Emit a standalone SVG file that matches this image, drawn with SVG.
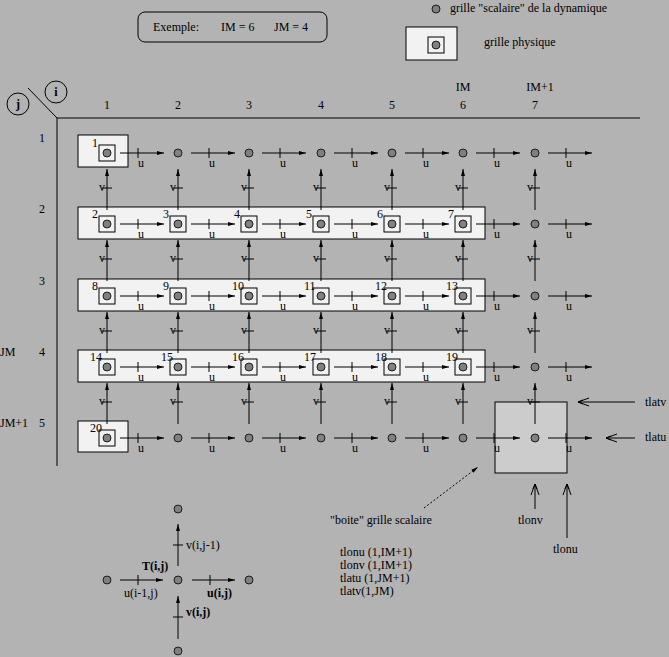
<svg xmlns="http://www.w3.org/2000/svg" xmlns:xlink="http://www.w3.org/1999/xlink" width="669" height="657" viewBox="0 0 669 657">
<style>
text{font-family:"Liberation Serif",serif;font-size:12px;fill:#000}
.b{font-weight:bold}
.ln{stroke:#000;stroke-width:1;fill:none}
.dot{fill:#808080;stroke:#000;stroke-width:0.8}
.pb{fill:#f2f2f2;stroke:#000;stroke-width:1}
</style>
<defs>
<marker id="ah" markerWidth="8" markerHeight="6" refX="7" refY="3" orient="auto" markerUnits="userSpaceOnUse"><path d="M0,1 L7,3 L0,5 Z" fill="#000"/></marker>
<marker id="oa" markerWidth="14" markerHeight="10" refX="12" refY="5" orient="auto" markerUnits="userSpaceOnUse"><path d="M1,1 L12,5 L1,9 M7,3 L12,5 L7,7" fill="none" stroke="#000"/></marker>
<g id="ua"><line class="ln" x1="13" y1="0" x2="57" y2="0" marker-end="url(#ah)"/><line class="ln" x1="31" y1="-5" x2="31" y2="5"/><text x="31" y="14">u</text></g>
<g id="va"><line class="ln" x1="0" y1="57" x2="0" y2="16" marker-end="url(#ah)"/><line class="ln" x1="-5" y1="35" x2="5" y2="35"/><text x="-2" y="38" text-anchor="end">v</text></g>
<circle id="d" class="dot" r="4"/>
<g id="p"><rect x="-8" y="-8" width="16" height="16" fill="#f2f2f2" stroke="#000"/><circle class="dot" r="4"/></g>
</defs>
<rect width="669" height="657" fill="#b3b3b3"/>
<g id="legend">
<rect x="138" y="12" width="189" height="30" rx="7" fill="#b3b3b3" stroke="#000"/>
<text x="153" y="31">Exemple:</text><text x="221" y="31">IM = 6</text><text x="274" y="31">JM = 4</text>
<use href="#d" x="436" y="9"/>
<text x="450" y="12">grille "scalaire" de la dynamique</text>
<rect x="406" y="27" width="51" height="33" fill="#f2f2f2" stroke="#000"/>
<use href="#p" x="436" y="45"/>
<text x="484" y="46">grille physique</text>
</g>
<g id="axes">
<line class="ln" x1="57" y1="118" x2="57" y2="466"/>
<line class="ln" x1="57" y1="118" x2="640" y2="118"/>
<line class="ln" x1="28" y1="88" x2="57" y2="118"/>
<circle cx="56" cy="92" r="11" fill="#b3b3b3" stroke="#000"/><text class="b" x="56" y="96" text-anchor="middle">i</text>
<circle cx="18" cy="104" r="11" fill="#b3b3b3" stroke="#000"/><text class="b" x="18" y="108" text-anchor="middle">j</text>
<g text-anchor="middle">
<text x="107" y="109">1</text><text x="178" y="109">2</text><text x="249" y="109">3</text><text x="321" y="109">4</text><text x="392" y="109">5</text><text x="463" y="109">6</text><text x="535" y="109">7</text>
<text x="463" y="91">IM</text><text x="540" y="91">IM+1</text>
</g>
<text x="39" y="142">1</text><text x="39" y="213">2</text><text x="39" y="285">3</text><text x="39" y="356">4</text><text x="39" y="427">5</text>
<text x="0" y="356">JM</text><text x="0" y="427">JM+1</text>
</g>
<g id="rows">
<rect class="pb" x="78" y="135" width="50" height="32"/>
<rect class="pb" x="78" y="207" width="407" height="32"/>
<rect class="pb" x="78" y="279" width="407" height="32"/>
<rect class="pb" x="78" y="350" width="407" height="32"/>
<rect class="pb" x="78" y="421" width="50" height="31"/>
<rect x="495" y="402" width="72" height="71" fill="#cccccc" stroke="#000"/>
</g>
<g id="connectors">
<use href="#ua" x="107" y="153"/><use href="#ua" x="178" y="153"/><use href="#ua" x="249" y="153"/><use href="#ua" x="321" y="153"/><use href="#ua" x="392" y="153"/><use href="#ua" x="463" y="153"/><use href="#ua" x="535" y="153"/>
<use href="#ua" x="107" y="224"/><use href="#ua" x="178" y="224"/><use href="#ua" x="249" y="224"/><use href="#ua" x="321" y="224"/><use href="#ua" x="392" y="224"/><use href="#ua" x="463" y="224"/><use href="#ua" x="535" y="224"/>
<use href="#ua" x="107" y="296"/><use href="#ua" x="178" y="296"/><use href="#ua" x="249" y="296"/><use href="#ua" x="321" y="296"/><use href="#ua" x="392" y="296"/><use href="#ua" x="463" y="296"/><use href="#ua" x="535" y="296"/>
<use href="#ua" x="107" y="367"/><use href="#ua" x="178" y="367"/><use href="#ua" x="249" y="367"/><use href="#ua" x="321" y="367"/><use href="#ua" x="392" y="367"/><use href="#ua" x="463" y="367"/><use href="#ua" x="535" y="367"/>
<use href="#ua" x="107" y="438"/><use href="#ua" x="178" y="438"/><use href="#ua" x="249" y="438"/><use href="#ua" x="321" y="438"/><use href="#ua" x="392" y="438"/><use href="#ua" x="463" y="438"/><use href="#ua" x="535" y="438"/>
<use href="#va" x="107" y="153"/><use href="#va" x="178" y="153"/><use href="#va" x="249" y="153"/><use href="#va" x="321" y="153"/><use href="#va" x="392" y="153"/><use href="#va" x="463" y="153"/><use href="#va" x="535" y="153"/>
<use href="#va" x="107" y="224"/><use href="#va" x="178" y="224"/><use href="#va" x="249" y="224"/><use href="#va" x="321" y="224"/><use href="#va" x="392" y="224"/><use href="#va" x="463" y="224"/><use href="#va" x="535" y="224"/>
<use href="#va" x="107" y="296"/><use href="#va" x="178" y="296"/><use href="#va" x="249" y="296"/><use href="#va" x="321" y="296"/><use href="#va" x="392" y="296"/><use href="#va" x="463" y="296"/><use href="#va" x="535" y="296"/>
<use href="#va" x="107" y="367"/><use href="#va" x="178" y="367"/><use href="#va" x="249" y="367"/><use href="#va" x="321" y="367"/><use href="#va" x="392" y="367"/><use href="#va" x="463" y="367"/><use href="#va" x="535" y="367"/>
<line class="ln" x1="635" y1="402" x2="578" y2="402" marker-end="url(#oa)"/>
<line class="ln" x1="635" y1="438" x2="606" y2="438" marker-end="url(#oa)"/>
<line class="ln" x1="535" y1="509" x2="535" y2="484" marker-end="url(#oa)"/>
<line class="ln" x1="567" y1="538" x2="567" y2="484" marker-end="url(#oa)"/>
<line class="ln" x1="424" y1="508" x2="478" y2="467" stroke-dasharray="2,2" marker-end="url(#ah)"/>
<line class="ln" x1="120" y1="580" x2="163" y2="580" marker-end="url(#ah)"/><line class="ln" x1="138" y1="575" x2="138" y2="585"/>
<line class="ln" x1="192" y1="580" x2="235" y2="580" marker-end="url(#ah)"/><line class="ln" x1="210" y1="575" x2="210" y2="585"/>
<line class="ln" x1="178" y1="566" x2="178" y2="524" marker-end="url(#ah)"/><line class="ln" x1="173" y1="545" x2="183" y2="545"/>
<line class="ln" x1="178" y1="639" x2="178" y2="596" marker-end="url(#ah)"/><line class="ln" x1="173" y1="617" x2="183" y2="617"/>
</g>
<g id="row1"><use href="#p" x="107" y="153"/><text x="92" y="147">1</text><use href="#d" x="178" y="153"/><use href="#d" x="249" y="153"/><use href="#d" x="321" y="153"/><use href="#d" x="392" y="153"/><use href="#d" x="463" y="153"/><use href="#d" x="535" y="153"/></g>
<g id="row2"><use href="#p" x="107" y="224"/><use href="#p" x="178" y="224"/><use href="#p" x="249" y="224"/><use href="#p" x="321" y="224"/><use href="#p" x="392" y="224"/><use href="#p" x="463" y="224"/><use href="#d" x="535" y="224"/>
<text x="92" y="218">2</text><text x="163" y="218">3</text><text x="234" y="218">4</text><text x="306" y="218">5</text><text x="377" y="218">6</text><text x="448" y="218">7</text></g>
<g id="row3"><use href="#p" x="107" y="296"/><use href="#p" x="178" y="296"/><use href="#p" x="249" y="296"/><use href="#p" x="321" y="296"/><use href="#p" x="392" y="296"/><use href="#p" x="463" y="296"/><use href="#d" x="535" y="296"/>
<text x="92" y="290">8</text><text x="163" y="290">9</text><text x="232" y="290">10</text><text x="304" y="290">11</text><text x="375" y="290">12</text><text x="446" y="290">13</text></g>
<g id="row4"><use href="#p" x="107" y="367"/><use href="#p" x="178" y="367"/><use href="#p" x="249" y="367"/><use href="#p" x="321" y="367"/><use href="#p" x="392" y="367"/><use href="#p" x="463" y="367"/><use href="#d" x="535" y="367"/>
<text x="90" y="361">14</text><text x="161" y="361">15</text><text x="232" y="361">16</text><text x="304" y="361">17</text><text x="375" y="361">18</text><text x="446" y="361">19</text></g>
<g id="row5"><use href="#p" x="107" y="438"/><text x="90" y="432">20</text><use href="#d" x="178" y="438"/><use href="#d" x="249" y="438"/><use href="#d" x="321" y="438"/><use href="#d" x="392" y="438"/><use href="#d" x="463" y="438"/><use href="#d" x="535" y="438"/></g>
<g id="stencil"><use href="#d" x="107" y="580"/><use href="#d" x="178" y="580"/><use href="#d" x="249" y="580"/><use href="#d" x="178" y="509"/><use href="#d" x="178" y="651"/>
<text class="b" x="142" y="570">T(i,j)</text><text x="124" y="597">u(i-1,j)</text><text class="b" x="207" y="597">u(i,j)</text><text x="186" y="549">v(i,j-1)</text><text class="b" x="186" y="616">v(i,j)</text></g>
<g id="labels">
<text x="645" y="406">tlatv</text><text x="645" y="441">tlatu</text><text x="518" y="524">tlonv</text><text x="553" y="553">tlonu</text>
<text x="330" y="524">"boite" grille scalaire</text>
<text x="340" y="556">tlonu (1,IM+1)</text><text x="340" y="569">tlonv (1,IM+1)</text><text x="340" y="582">tlatu (1,JM+1)</text><text x="340" y="595">tlatv(1,JM)</text>
</g>
</svg>
